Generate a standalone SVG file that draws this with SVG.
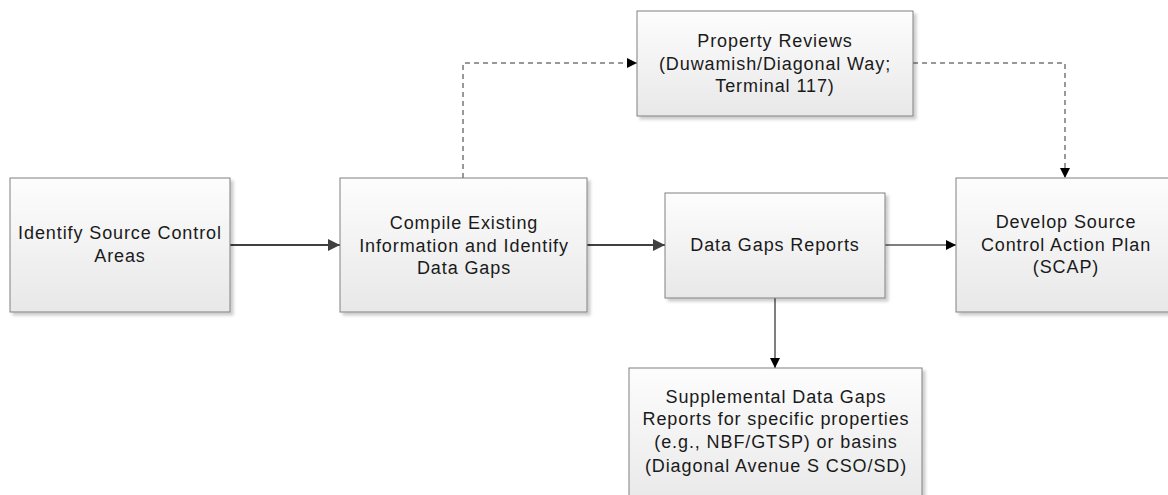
<svg xmlns="http://www.w3.org/2000/svg" width="1168" height="495" viewBox="0 0 1168 495">
<style>
.box{fill:url(#g);stroke:#808080;stroke-width:1;filter:url(#sh)}
.t{font-family:"Liberation Sans",Arial,sans-serif;font-size:18px;letter-spacing:0.9px;fill:#1a1a1a;text-anchor:middle}
.thick{stroke:#404040;stroke-width:2;fill:none}
.thin{stroke:#000;stroke-width:1;fill:none}
.dash{stroke:#333;stroke-width:1;fill:none;stroke-dasharray:5 4}
</style>
<defs>
<linearGradient id="g" x1="0" y1="0" x2="0" y2="1">
<stop offset="0" stop-color="#fdfdfd"/>
<stop offset="1" stop-color="#e8e8e8"/>
</linearGradient>
<filter id="sh" x="-10%" y="-10%" width="130%" height="130%">
<feDropShadow dx="3" dy="3" stdDeviation="1.5" flood-color="#000" flood-opacity="0.2"/>
</filter>
<marker id="ab" viewBox="0 0 12 12" refX="12" refY="6" markerWidth="12" markerHeight="12" markerUnits="userSpaceOnUse" orient="auto">
<path d="M0,0 L12,6 L0,12 Z" fill="#404040"/>
</marker>
<marker id="as" viewBox="0 0 10 10" refX="10" refY="5" markerWidth="10" markerHeight="10" markerUnits="userSpaceOnUse" orient="auto">
<path d="M0,0 L10,5 L0,10 Z" fill="#000"/>
</marker>
</defs>
<g id="connectors">
<line class="thick" x1="230" y1="245" x2="340" y2="245" marker-end="url(#ab)"/>
<line class="thick" x1="587" y1="245" x2="665" y2="245" marker-end="url(#ab)"/>
<line class="thin" x1="885" y1="245" x2="956" y2="245" marker-end="url(#as)"/>
<line class="thin" x1="775" y1="298" x2="775" y2="368" marker-end="url(#as)"/>
<path class="dash" d="M463,178 V63 H637" marker-end="url(#as)"/>
<path class="dash" d="M913,63 H1065 V178" marker-end="url(#as)"/>
</g>
<g id="n1">
<rect class="box" x="10" y="178" width="220" height="134"/>
<text class="t" x="120" y="239">Identify Source Control</text>
<text class="t" x="120" y="262">Areas</text>
</g>
<g id="n2">
<rect class="box" x="340" y="178" width="247" height="134"/>
<text class="t" x="464" y="229">Compile Existing</text>
<text class="t" x="464" y="252">Information and Identify</text>
<text class="t" x="464" y="274">Data Gaps</text>
</g>
<g id="n3">
<rect class="box" x="637" y="11" width="276" height="105"/>
<text class="t" x="775" y="47">Property Reviews</text>
<text class="t" x="775" y="70">(Duwamish/Diagonal Way;</text>
<text class="t" x="775" y="92">Terminal 117)</text>
</g>
<g id="n4">
<rect class="box" x="665" y="193" width="220" height="105"/>
<text class="t" x="775" y="251">Data Gaps Reports</text>
</g>
<g id="n5">
<rect class="box" x="956" y="178" width="220" height="134"/>
<text class="t" x="1066" y="228">Develop Source</text>
<text class="t" x="1066" y="251">Control Action Plan</text>
<text class="t" x="1066" y="273">(SCAP)</text>
</g>
<g id="n6">
<rect class="box" x="629" y="368" width="293" height="140"/>
<text class="t" x="776" y="403">Supplemental Data Gaps</text>
<text class="t" x="776" y="425">Reports for specific properties</text>
<text class="t" x="776" y="448">(e.g., NBF/GTSP) or basins</text>
<text class="t" x="776" y="472">(Diagonal Avenue S CSO/SD)</text>
</g>
</svg>
